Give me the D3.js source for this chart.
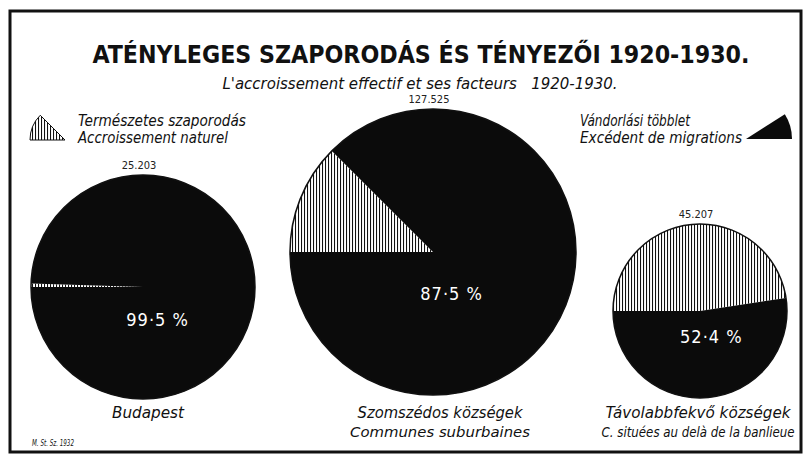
<!DOCTYPE html>
<html>
<head>
<meta charset="utf-8">
<script src="https://cdn.jsdelivr.net/npm/d3@7"></script>
<style>
	body { margin: 0; background: #fff; }
	svg { display: block; }
	.it { font-family: 'DejaVu Sans Condensed', 'DejaVu Sans', sans-serif; font-stretch: condensed; font-style: italic; fill: #111; white-space: pre; }
</style>
</head>
<body>
<svg id="chart"></svg>
<script>
const W = 806
const H = 458

// data
const places = ['Budapest', 'Szomszédos községek', 'Távolabbfekvő községek']
const placesFr = ['', 'Communes suburbaines', 'C. situées au delà de la banlieue']
const totals = [25203, 127525, 45207]
const migrationPct = [99.5, 87.5, 52.4]
const seriesHu = ['Természetes szaporodás', 'Vándorlási többlet']
const seriesFr = ['Accroissement naturel', 'Excédent de migrations']

const title = 'ATÉNYLEGES SZAPORODÁS ÉS TÉNYEZŐI 1920-1930.'
const subtitle = 'L\'accroissement effectif et ses facteurs   1920-1930.'
const source = 'M. St. Sz. 1932'

// layout of the three circles
const centers = [[143, 287], [433, 252], [700, 311]]
const radii = [112, 143, 87]

const locale = d3.formatLocale({ decimal: '·', thousands: '.', grouping: [3], currency: ['', ''] })
const fmtTotal = locale.format(',d')
const fmtPct = locale.format('.1f')

const svg = d3.select('#chart').attr('width', W).attr('height', H)

function italic(parent, txt, x, y, len, size, anchor) {
	return parent.append('text')
		.attr('class', 'it')
		.attr('x', x).attr('y', y)
		.attr('text-anchor', anchor || 'start')
		.attr('textLength', len)
		.attr('lengthAdjust', 'spacingAndGlyphs')
		.style('font-size', size + 'px')
		.text(txt)
}

const defs = svg.append('defs')
const pat = defs.append('pattern')
	.attr('id', 'hatch')
	.attr('patternUnits', 'userSpaceOnUse')
	.attr('width', 3)
	.attr('height', 3)
pat.append('rect').attr('width', 3).attr('height', 3).attr('fill', '#fff')
pat.append('line')
	.attr('x1', 0.5).attr('x2', 0.5)
	.attr('y1', 0).attr('y2', 3)
	.attr('stroke', '#111').attr('stroke-width', 1.1)

const fills = ['url(#hatch)', '#0b0b0b']

// frame
svg.append('rect')
	.attr('x', 10).attr('y', 11)
	.attr('width', 791).attr('height', 441)
	.attr('fill', 'none')
	.attr('stroke', '#111')
	.attr('stroke-width', 3)

// title: size it so its natural width is ~657px
const titleEl = svg.append('text')
	.attr('x', 421).attr('y', 63)
	.attr('text-anchor', 'middle')
	.style('font-family', "'DejaVu Sans Condensed', 'DejaVu Sans', sans-serif")
	.style('font-stretch', 'condensed')
	.style('font-weight', 'bold')
	.style('font-size', '27px')
	.attr('fill', '#111')
	.text(title)
const tw = titleEl.node().getComputedTextLength()
titleEl.style('font-size', (27 * 657 / tw).toFixed(2) + 'px')

italic(svg, subtitle, 420, 89, 395, 15, 'middle')

const pie = d3.pie()
	.sort(null)
	.startAngle(-Math.PI / 2)
	.endAngle(Math.PI * 1.5)

// legend
const legendArc = d3.arc().innerRadius(0)
svg.append('path')
	.attr('transform', 'translate(65,140)')
	.attr('d', legendArc({ outerRadius: 35, startAngle: -Math.PI / 2, endAngle: -Math.PI / 4 }))
	.attr('fill', fills[0])
	.attr('stroke', '#111')
	.attr('stroke-width', 1)
svg.append('path')
	.attr('transform', 'translate(746,139)')
	.attr('d', legendArc({ outerRadius: 46, startAngle: Math.PI * 0.32, endAngle: Math.PI / 2 }))
	.attr('fill', fills[1])

italic(svg, seriesHu[0], 78, 126, 168, 15)
italic(svg, seriesFr[0], 78, 143, 150, 15)
italic(svg, seriesHu[1], 580, 126, 110, 15)
italic(svg, seriesFr[1], 580, 143, 162, 15)

// pies
places.forEach((name, i) => {
	const [cx, cy] = centers[i]
	const r = radii[i]
	const g = svg.append('g').attr('transform', `translate(${cx},${cy})`)
	const arc = d3.arc().innerRadius(0).outerRadius(r)
	const slices = pie([100 - migrationPct[i], migrationPct[i]])

	g.selectAll('path.slice')
		.data(slices)
		.join('path')
		.attr('class', 'slice')
		.attr('d', arc)
		.attr('fill', (d, j) => fills[j])

	g.append('circle')
		.attr('r', r)
		.attr('fill', 'none')
		.attr('stroke', '#111')
		.attr('stroke-width', 1.5)

	g.append('text')
		.attr('x', r * 0.13)
		.attr('y', r * 0.29 + 7)
		.attr('text-anchor', 'middle')
		.attr('fill', '#fff')
		.style('font-family', "'DejaVu Sans Condensed', 'DejaVu Sans', sans-serif")
		.style('font-stretch', 'condensed')
		.style('font-weight', '300')
		.style('font-size', '18px')
		.style('letter-spacing', '1px')
		.text(fmtPct(migrationPct[i]) + ' %')

	svg.append('text')
		.attr('x', cx - 4)
		.attr('y', cy - r - 6)
		.attr('text-anchor', 'middle')
		.style('font-family', "'DejaVu Sans Condensed', 'DejaVu Sans', sans-serif")
		.style('font-stretch', 'condensed')
		.style('font-size', '11px')
		.attr('fill', '#222')
		.text(fmtTotal(totals[i]))
})

// bottom labels
const labelX = [148, 440, 698]
const labelLen = [72, 165, 185]
const labelFrLen = [0, 180, 193]
places.forEach((name, i) => {
	italic(svg, name, labelX[i], 418, labelLen[i], 16, 'middle')
	if (placesFr[i]) italic(svg, placesFr[i], labelX[i], 437, labelFrLen[i], 14, 'middle')
})

italic(svg, source, 32, 446, 42, 9)
</script>
</body>
</html>
